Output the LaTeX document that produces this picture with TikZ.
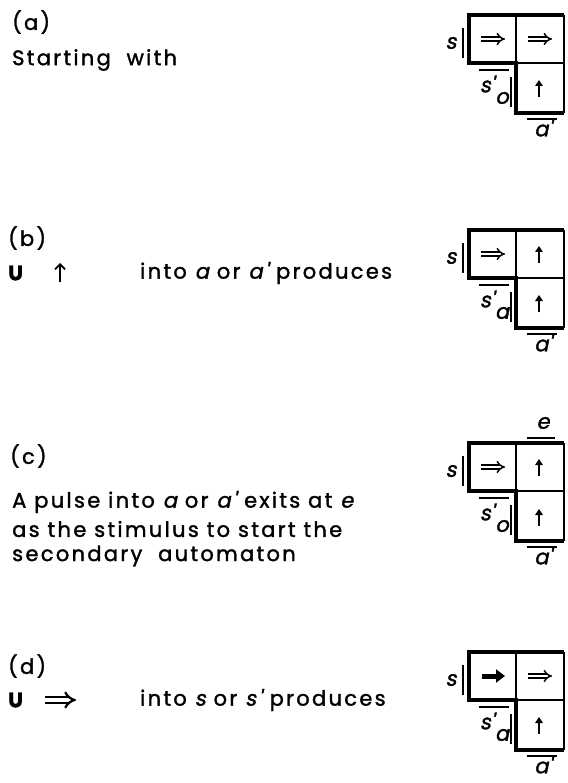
\documentclass[tikz,border=0pt]{standalone}
\usepackage{fontspec}
\setmainfont{Poppins}[LetterSpace=11,FakeBold=1.5]
\newfontfamily\slfont{Poppins}[FakeSlant=0.2,LetterSpace=11,FakeBold=1.5]
\newfontfamily\lblfont{Poppins}[FakeSlant=0.2,FakeBold=1.5]
\usetikzlibrary{positioning,arrows.meta}

\tikzset{
  txt/.style={anchor=west,inner sep=0pt,font=\fontsize{21}{25}\selectfont},
  lbl/.style={inner sep=0pt,font=\fontsize{21}{25}\selectfont\lblfont},
  frame/.style={line width=3.5pt,line join=miter},
  grid/.style={line width=1.4pt},
  port/.style={line width=2.6pt},
  dbl/.style={double,double distance=2.6pt,line width=1.5pt,-{Implies}},
  up/.style={line width=2.4pt,-{Triangle[length=6pt,width=7.5pt]}},
  full/.style={line width=5pt,-{Triangle[length=9pt,width=13pt]}},
  thinup/.style={line width=1.8pt,-{Straight Barb[length=5pt,width=10pt]}},
}

\begin{document}
\begin{tikzpicture}[x=1pt,y=-1pt]
\useasboundingbox (0,0) rectangle (567,783);
% the four L-shaped cell groups
\foreach \t/\sub in {15/o,230/a,443/o,652/a}{
  \draw[grid] (516,\t) -- (516,\t+48) -- (564,\t+48);
  \draw[grid] (564,\t) -- (564,\t+98);
  \draw[frame] (564,\t) -- (469,\t) -- (469,\t+48) -- (516,\t+48) -- (516,\t+98) -- (564,\t+98);
  \node[lbl] (s-\t) at (451,\t+28) {s};
  \draw[port] (463,\t+13) -- (463,\t+43);
  \node[lbl] (sp-\t) at (487,\t+69) {s'};
  \node[lbl] (sub-\t) at (502,\t+83) {\sub};
  \draw[port] (479,\t+55) -- (509,\t+55);
  \draw[port] (511,\t+62) -- (511,\t+92);
  \draw[port] (527,\t+104) -- (557,\t+104);
  \node[lbl] (ap-\t) at (543,\t+113) {a'};
}
% (a)
\node[txt] (lab-a) at (12,22) {(a)};
\node[txt] (start) at (12,60) {Starting\ \ with};
\draw[dbl] (481,39) -- (505,39);
\draw[dbl] (528,39) -- (552,39);
\draw[up] (539,97) -- (539,80);
% (b)
\node[txt] (lab-b) at (8,238) {(b)};
\node[txt] (u-b) at (8,273) {\textbf{U}};
\draw[thinup] (60,282) -- (60,263);
\node[txt] (into-b) at (140,273) {into {\slfont a} or {\slfont a'} produces};
\draw[dbl] (481,254) -- (505,254);
\draw[up] (539,263) -- (539,246);
\draw[up] (539,312) -- (539,295);
% (c)
\node[txt] (lab-c) at (10,456) {(c)};
\node[txt] (c-l1) at (12,502) {A pulse into {\slfont a} or {\slfont a'} exits at {\slfont e}};
\node[txt] (c-l2) at (12,529) {as the stimulus to start the};
\node[txt] (c-l3) at (12,556) {secondary\ \ automaton};
\node[lbl] (e) at (543,423) {e};
\draw[port] (527,438) -- (555,438);
\draw[dbl] (481,467) -- (505,467);
\draw[up] (539,476) -- (539,459);
\draw[up] (539,526) -- (539,509);
% (d)
\node[txt] (lab-d) at (8,666) {(d)};
\node[txt] (u-d) at (8,700) {\textbf{U}};
\draw[dbl,line width=2.2pt,double distance=3.4pt] (45,700) -- (76,700);
\node[txt] (into-d) at (140,700) {into {\slfont s} or {\slfont s'} produces};
\draw[full] (482,676) -- (505,676);
\draw[dbl] (528,676) -- (552,676);
\draw[up] (539,734) -- (539,717);
\end{tikzpicture}
\end{document}
